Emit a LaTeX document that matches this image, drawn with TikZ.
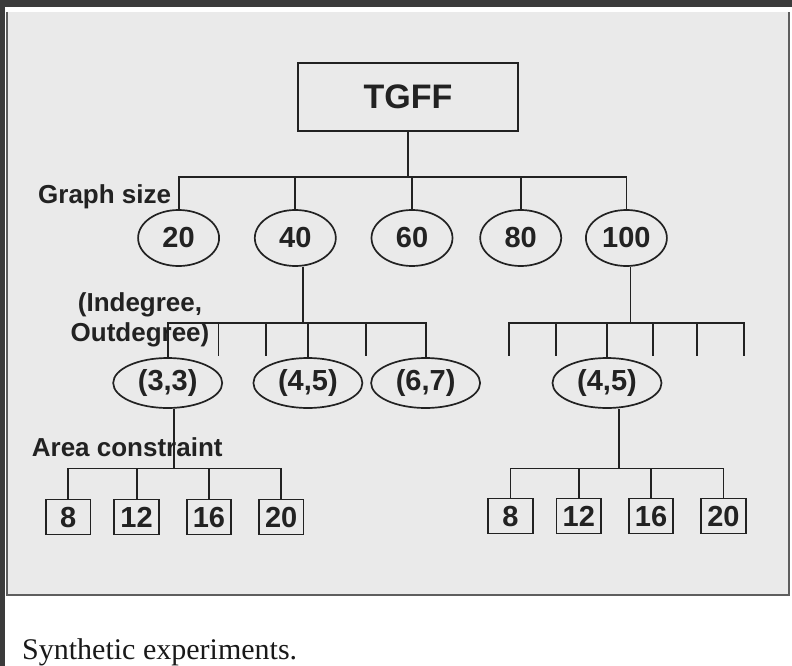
\documentclass[tikz,border=0pt]{standalone}
\usepackage{fontspec}
\setmainfont{Liberation Serif}
\setsansfont{Liberation Sans}
\usetikzlibrary{positioning,shapes.geometric}
\definecolor{ink}{HTML}{222222}
\definecolor{panel}{HTML}{EAEAEA}
\definecolor{frame}{HTML}{3B3B3B}
\definecolor{edge}{HTML}{5E5E5E}

\begin{document}
\begin{tikzpicture}[x=1pt, y=-1pt,
  wire/.style={draw=ink, line width=1.8pt},
  topbox/.style={draw=ink, line width=1.8pt, minimum width=220pt, minimum height=68pt, inner sep=0pt, text=ink, font=\sffamily\bfseries\fontsize{34}{36}\selectfont},
  sizenode/.style={draw=ink, ellipse, line width=1.7pt, minimum width=81pt, minimum height=56pt, inner sep=1pt, text=ink, font=\sffamily\bfseries\fontsize{29}{31}\selectfont},
  degnode/.style={sizenode, minimum width=109pt, minimum height=50pt},
  areabox/.style={draw=ink, line width=1.8pt, minimum width=44.5pt, minimum height=35pt, inner sep=0pt, text height=21pt, text depth=0pt, text=ink, font=\sffamily\bfseries\fontsize{29}{31}\selectfont},
  lbl/.style={inner sep=0pt, text=ink, font=\sffamily\bfseries\fontsize{26}{30}\selectfont}]
% screen frame and grey panel
\useasboundingbox (0,0) rectangle (792,666);
\fill[white] (0,0) rectangle (792,666);
\fill[frame] (0,0) rectangle (792,7);
\fill[frame] (0,0) rectangle (5,666);
\fill[panel] (7,12) rectangle (789,595);
\draw[edge, line width=1.5pt] (7,12) -- (7,595) -- (789,595) -- (789,12);

\node[topbox] (tgff) at (408,97) {TGFF};
\node[sizenode] (s20) at (178.6,238) {20};
\node[sizenode, right=34pt of s20] (s40) {40};
\node[sizenode, right=34pt of s40] (s60) {60};
\node[sizenode, right=26pt of s60] (s80) {80};
\node[sizenode, right=23pt of s80] (s100) {100};
\node[degnode] (d33) at (167.7,383) {(3,3)};
\node[degnode, right=29.5pt of d33] (d45) {(4,5)};
\node[degnode, right=7pt of d45] (d67) {(6,7)};
\node[degnode] (r45) at (607,383) {(4,5)};
\node[areabox] (a8) at (68.3,517) {8};
\node[areabox, right=22pt of a8] (a12) {12};
\node[areabox, right=26pt of a12] (a16) {16};
\node[areabox, right=26pt of a16] (a20) {20};
\node[areabox] (b8) at (510.5,516) {8};
\node[areabox, right=22pt of b8] (b12) {12};
\node[areabox, right=26pt of b12] (b16) {16};
\node[areabox, right=26pt of b16] (b20) {20};

\node[lbl, anchor=base west] (lsize) at (38,203) {Graph size};
\node[lbl, align=center] (ldeg) at (140,320) {(Indegree,\\Outdegree)};
\node[lbl, anchor=base west] (larea) at (31.7,456.7) {Area constraint};
\node[anchor=base west, inner sep=0pt, text=black!90, font=\fontsize{30}{32}\selectfont] (caption) at (22,659) {Synthetic experiments.};

% bus levels and open branch ends
\coordinate (bus1) at (0,177);
\coordinate (bus2) at (0,323);
\coordinate (bus3) at (0,468.5);
\coordinate (e1) at (218.5,355.5);
\coordinate (e2) at (266,355.5);
\coordinate (e3) at (366,355.5);
\coordinate (e4) at (509.3,355.5);
\coordinate (e5) at (556,355.5);
\coordinate (e6) at (653.3,355.5);
\coordinate (e7) at (696.7,355.5);
\coordinate (e8) at (744,355.5);
\coordinate (t40) at ([xshift=8pt]s40.south);
\coordinate (t100) at ([xshift=4pt]s100.south);
\coordinate (t33) at ([xshift=6pt]d33.south);
\coordinate (t45) at ([xshift=12pt]r45.south);

\draw[wire] (tgff.south) -- (tgff.south |- bus1) coordinate (j1);
\draw[wire] (j1) -| (s20);
\draw[wire] (j1) -| (s40);
\draw[wire] (j1) -| (s60);
\draw[wire] (j1) -| (s80);
\draw[wire] (j1) -| (s100);
\draw[wire] (t40) -- (t40 |- bus2) coordinate (j2);
\draw[wire] (j2) -| (d33);
\draw[wire] (j2) -| (e1);
\draw[wire] (j2) -| (e2);
\draw[wire] (j2) -| (d45);
\draw[wire] (j2) -| (e3);
\draw[wire] (j2) -| (d67);
\draw[wire] (t100) -- (t100 |- bus2) coordinate (j3);
\draw[wire] (j3) -| (e4);
\draw[wire] (j3) -| (e5);
\draw[wire] (j3) -| (r45);
\draw[wire] (j3) -| (e6);
\draw[wire] (j3) -| (e7);
\draw[wire] (j3) -| (e8);
\draw[wire] (t33) -- (t33 |- bus3) coordinate (j4);
\draw[wire] (j4) -| (a8);
\draw[wire] (j4) -| (a12);
\draw[wire] (j4) -| (a16);
\draw[wire] (j4) -| (a20);
\draw[wire] (t45) -- (t45 |- bus3) coordinate (j5);
\draw[wire] (j5) -| (b8);
\draw[wire] (j5) -| (b12);
\draw[wire] (j5) -| (b16);
\draw[wire] (j5) -| (b20);
\end{tikzpicture}
\end{document}
